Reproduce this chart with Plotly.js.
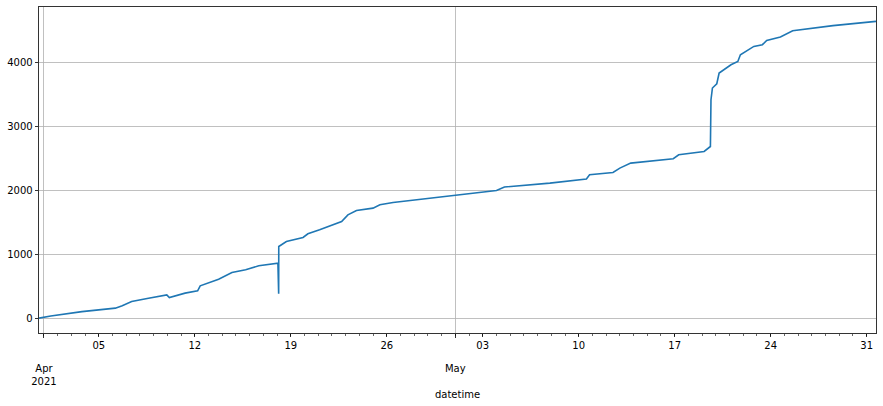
<!DOCTYPE html>
<html>
<head>
<meta charset="utf-8">
<script src="https://cdn.plot.ly/plotly-3.0.1.min.js"></script>
<style>html,body{margin:0;padding:0;background:#fff;}#chart{width:883px;height:406px;}</style>
</head>
<body>
<div id="chart"></div>
<script>
// Cumulative series
const times = [
  "2021-03-31 15:20","2021-04-01 12:00","2021-04-03 18:30","2021-04-06 05:00","2021-04-06 17:00",
  "2021-04-07 09:30","2021-04-08 15:00","2021-04-09 23:00","2021-04-10 03:30","2021-04-11 07:00",
  "2021-04-12 05:00","2021-04-12 09:30","2021-04-13 17:45","2021-04-14 17:00","2021-04-15 17:00",
  "2021-04-16 16:00","2021-04-18 01:30","2021-04-18 02:50","2021-04-18 03:00","2021-04-18 16:20",
  "2021-04-19 21:30","2021-04-20 06:00","2021-04-21 02:30","2021-04-22 02:00","2021-04-22 17:00",
  "2021-04-23 04:00","2021-04-23 19:00","2021-04-25 00:00","2021-04-25 12:00","2021-04-26 11:00",
  "2021-04-28 04:00","2021-04-29 14:30","2021-05-01 00:00","2021-05-02 01:00","2021-05-04 00:00",
  "2021-05-04 14:00","2021-05-07 21:30","2021-05-10 13:30","2021-05-10 19:00","2021-05-12 12:00",
  "2021-05-13 00:00","2021-05-13 19:00","2021-05-15 14:30","2021-05-16 21:30","2021-05-17 07:00",
  "2021-05-19 03:30","2021-05-19 14:30","2021-05-19 15:30","2021-05-19 18:00","2021-05-20 01:40",
  "2021-05-20 05:45","2021-05-21 02:30","2021-05-21 14:30","2021-05-21 19:00","2021-05-22 18:30",
  "2021-05-23 09:30","2021-05-23 17:00","2021-05-24 17:00","2021-05-25 14:30","2021-05-28 13:00",
  "2021-05-31 16:20"
];
const values = [
  0,35,103,157,195,
  260,313,365,323,392,
  428,506,611,715,757,
  820,862,381,1122,1200,
  1263,1321,1383,1462,1514,
  1618,1686,1723,1775,1811,
  1853,1895,1932,1958,2000,
  2053,2115,2178,2245,2281,
  2350,2428,2469,2496,2558,
  2610,2688,3420,3603,3670,
  3838,3968,4020,4125,4255,
  4282,4349,4403,4501,4580,
  4647
];
const dayTickVals = ["2021-04-05","2021-04-12","2021-04-19","2021-04-26","2021-05-03","2021-05-10","2021-05-17","2021-05-24","2021-05-31"];
const dayTickText = ["05","12","19","26","03","10","17","24","31"];
const monthTickVals = ["2021-04-01","2021-05-01"];
const monthTickText = ["Apr<br>2021","May"];
const yTickVals = [0,1000,2000,3000,4000];
const xRange = ["2021-03-31 15:20","2021-05-31 16:20"];
const yRange = [-232, 4872];

const font = {family: "DejaVu Sans, sans-serif", size: 10, color: "#000"};

// daily minor tick positions
const minorDays = [];
for (let d = new Date(Date.UTC(2021,2,31)); d <= new Date(Date.UTC(2021,5,1)); d = new Date(d.getTime()+86400000)) {
  minorDays.push(d.toISOString().slice(0,10));
}

const trace = {
  x: times, y: values, type: "scatter", mode: "lines",
  line: {color: "#1f77b4", width: 1.6},
  showlegend: false, xaxis: "x", yaxis: "y", hoverinfo: "skip"
};
// same series bound to the month axis (transparent) so that axis is drawn
const traceMonths = {
  x: times, y: values, type: "scatter", mode: "lines",
  line: {color: "rgba(0,0,0,0)", width: 0},
  showlegend: false, xaxis: "x2", yaxis: "y", hoverinfo: "skip"
};

const layout = {
  width: 883, height: 406,
  margin: {l: 39, r: 7, t: 7, b: 73},
  paper_bgcolor: "#fff", plot_bgcolor: "#fff",
  font: font,
  showlegend: false,
  xaxis: {
    type: "date", range: xRange, fixedrange: true,
    tickmode: "array", tickvals: dayTickVals, ticktext: dayTickText,
    ticks: "outside", ticklen: 3.5, tickwidth: 0.8, tickcolor: "#000",
    showgrid: false, zeroline: false,
    showline: true, mirror: true, linecolor: "#000", linewidth: 0.8,
    tickfont: font,
    minor: {tickmode: "array", tickvals: minorDays, ticks: "outside", ticklen: 2, tickwidth: 0.6, tickcolor: "#000", showgrid: false},
    title: {text: "datetime", font: font, standoff: 40}
  },
  xaxis2: {
    type: "date", range: xRange, overlaying: "x", anchor: "y", side: "bottom",
    tickmode: "array", tickvals: monthTickVals, ticktext: monthTickText,
    ticks: "outside", ticklen: 3.5, tickwidth: 0.8, tickcolor: "#000",
    showgrid: true, gridcolor: "#b0b0b0", gridwidth: 0.8,
    zeroline: false, showline: false,
    tickfont: font, ticklabelstandoff: 22
  },
  yaxis: {
    range: yRange, fixedrange: true,
    tickmode: "array", tickvals: yTickVals,
    ticks: "outside", ticklen: 3.5, tickwidth: 0.8, tickcolor: "#000",
    showgrid: true, gridcolor: "#b0b0b0", gridwidth: 0.8,
    zeroline: false,
    showline: true, mirror: true, linecolor: "#000", linewidth: 0.8,
    tickfont: font
  }
};

Plotly.newPlot("chart", [traceMonths, trace], layout, {staticPlot: true, displayModeBar: false});
</script>
</body>
</html>
